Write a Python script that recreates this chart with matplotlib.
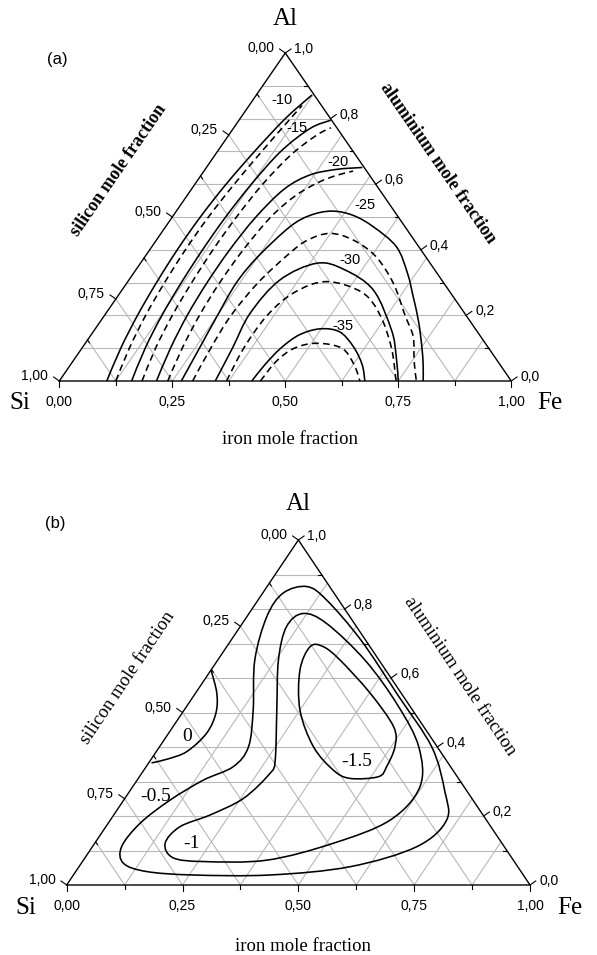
import numpy as np
import matplotlib
matplotlib.use('Agg')
import matplotlib.pyplot as plt
from matplotlib.path import Path
from matplotlib.patches import PathPatch

SERIF = 'Liberation Serif'
SANS = 'Liberation Sans'
GRID = '#b8b8b8'

# axis ticks and labels
fe_ticks = [0.0, 0.25, 0.5, 0.75, 1.0]
fe_labels = ['0,00', '0,25', '0,50', '0,75', '1,00']
si_ticks = [0.0, 0.25, 0.5, 0.75, 1.0]
si_labels = ['0,00', '0,25', '0,50', '0,75', '1,00']
al_ticks = [0.0, 0.2, 0.4, 0.6, 0.8, 1.0]
al_labels = ['0,0', '0,2', '0,4', '0,6', '0,8', '1,0']

# panel (a): contour lines as (Fe, Al) mole fractions
a_levels = ['-10', '-15', '-20', '-25', '-30', '-35']
a10_solid = [(0.105, 0), (0.086, 0.1), (0.073, 0.2), (0.065, 0.3), (0.061, 0.4), (0.062, 0.5),
             (0.069, 0.6), (0.082, 0.7), (0.1, 0.8), (0.123, 0.872)]
a10_dash = [(0.125, 0), (0.105, 0.1), (0.091, 0.2), (0.083, 0.3), (0.079, 0.4), (0.08, 0.5),
            (0.087, 0.6), (0.098, 0.7), (0.11, 0.79), (0.117, 0.84)]
a15_solid = [(0.16, 0), (0.14, 0.1), (0.127, 0.2), (0.12, 0.3), (0.117, 0.4), (0.118, 0.5),
             (0.125, 0.6), (0.14, 0.7), (0.17, 0.77), (0.203, 0.795)]
a15_dash = [(0.183, 0), (0.163, 0.1), (0.15, 0.2), (0.143, 0.3), (0.14, 0.4), (0.142, 0.5),
            (0.15, 0.6), (0.168, 0.69), (0.195, 0.75), (0.215, 0.772)]
a20_solid = [(0.215, 0), (0.196, 0.1), (0.183, 0.2), (0.177, 0.3), (0.177, 0.4), (0.185, 0.5),
             (0.205, 0.585), (0.24, 0.628), (0.29, 0.645), (0.345, 0.651)]
a20_dash = [(0.24, 0), (0.222, 0.1), (0.21, 0.2), (0.205, 0.3), (0.207, 0.4), (0.218, 0.5),
            (0.24, 0.565), (0.27, 0.605), (0.30, 0.627), (0.33, 0.64)]
a25_solid = [(0.27, 0), (0.26, 0.1), (0.25, 0.2), (0.242, 0.3), (0.25, 0.38), (0.275, 0.47),
             (0.3025, 0.505), (0.344, 0.518), (0.3975, 0.505), (0.46, 0.47), (0.5415, 0.409),
             (0.605, 0.33), (0.6545, 0.257), (0.705, 0.18), (0.7495, 0.105), (0.78, 0.05), (0.805, 0)]
a25_dash = [(0.295, 0), (0.285, 0.1), (0.28, 0.2), (0.29, 0.3), (0.315, 0.39), (0.335, 0.43),
            (0.374, 0.45), (0.435, 0.43), (0.51, 0.38), (0.59, 0.298), (0.665, 0.2), (0.7155, 0.135),
            (0.755, 0.06), (0.79, 0)]
a30_solid = [(0.345, 0), (0.333, 0.1), (0.319, 0.206), (0.334, 0.308), (0.39, 0.359), (0.46, 0.34),
             (0.5565, 0.277), (0.6575, 0.155), (0.705, 0.08), (0.75, 0)]
a30_dash = [(0.37, 0), (0.358, 0.1), (0.36, 0.2), (0.385, 0.27), (0.44, 0.303), (0.535, 0.27),
            (0.61, 0.2), (0.685, 0.1), (0.745, 0)]
a35_solid = [(0.426, 0), (0.43, 0.05), (0.44, 0.1), (0.46, 0.14), (0.497, 0.159), (0.545, 0.15),
             (0.598, 0.105), (0.645, 0.05), (0.676, 0)]
a35_dash = [(0.445, 0), (0.45, 0.06), (0.47, 0.1), (0.512, 0.115), (0.575, 0.1), (0.627, 0.05),
            (0.665, 0)]

# panel (b): closed contour lines, (Fe, Al)
b_levels = ['0', '-0.5', '-1', '-1.5']
b0 = [(0.0, 0.623), (0.046, 0.556), (0.073, 0.498), (0.082, 0.44), (0.066, 0.387),
      (0.035, 0.365), (0.006, 0.354)]
b05 = [(0.086, 0.865), (0.148, 0.826), (0.28, 0.71), (0.44, 0.55), (0.588, 0.40), (0.68, 0.272),
       (0.726, 0.188), (0.70, 0.111), (0.585, 0.053), (0.424, 0.029), (0.259, 0.029),
       (0.153, 0.039), (0.091, 0.063), (0.063, 0.111), (0.069, 0.179), (0.10, 0.246),
       (0.143, 0.304), (0.188, 0.343), (0.192, 0.401), (0.149, 0.507), (0.08, 0.652),
       (0.043, 0.778), (0.044, 0.846), (0.086, 0.865)]
b1 = [(0.117, 0.787), (0.182, 0.758), (0.32, 0.65), (0.455, 0.52), (0.56, 0.40), (0.62, 0.285),
      (0.604, 0.188), (0.515, 0.121), (0.396, 0.072), (0.261, 0.068), (0.19, 0.079),
      (0.152, 0.121), (0.16, 0.169), (0.208, 0.203), (0.256, 0.251), (0.277, 0.324),
      (0.269, 0.362), (0.2, 0.507), (0.131, 0.652), (0.10, 0.749), (0.117, 0.787)]
b15 = [(0.18, 0.691), (0.208, 0.691), (0.264, 0.652), (0.377, 0.556), (0.476, 0.459),
       (0.508, 0.401), (0.519, 0.343), (0.516, 0.314), (0.457, 0.309), (0.409, 0.333),
       (0.332, 0.401), (0.25, 0.507), (0.192, 0.623), (0.18, 0.691)]


def to_xy(points):
    p = np.asarray(points, dtype=float)
    return np.column_stack([p[:, 0] + p[:, 1] / 2, p[:, 1]])


def curve(ax, points, closed=False, **style):
    # smooth path through the read points (Catmull-Rom as cubic Bezier segments)
    P = to_xy(points)
    if closed:
        P = P[:-1]
    n = len(P)
    verts, codes = [P[0]], [Path.MOVETO]
    segs = n if closed else n - 1
    for i in range(segs):
        if closed:
            p0, p1, p2, p3 = P[i - 1], P[i], P[(i + 1) % n], P[(i + 2) % n]
        else:
            p0, p1 = P[max(i - 1, 0)], P[i]
            p2, p3 = P[i + 1], P[min(i + 2, n - 1)]
        verts += [p1 + (p2 - p0) / 6, p2 - (p3 - p1) / 6, p2]
        codes += [Path.CURVE4] * 3
    ax.add_patch(PathPatch(Path(verts, codes), fill=False, **style))


# panel geometry in pixels (triangle corners)
geo_a = dict(left=59.3, base=381.0, width=452.0, height=328.0, top=0.0, bottom=477.5)
geo_b = dict(left=66.7, base=885.0, width=463.3, height=345.0, top=477.5, bottom=955.0)

fig = plt.figure(figsize=(5.97, 9.55), dpi=100)


def make_axes(g):
    ax = fig.add_axes([0, 1 - g['bottom'] / 955, 1, (g['bottom'] - g['top']) / 955])
    ax.set_xlim(-g['left'] / g['width'], (597 - g['left']) / g['width'])
    ax.set_ylim((g['base'] - g['bottom']) / g['height'], (g['base'] - g['top']) / g['height'])
    ax.axis('off')
    return ax


def frame(ax, g):
    W, H = g['width'], g['height']
    kw = dict(color=GRID, lw=0.8, zorder=1)
    for a in np.arange(1, 10) / 10:
        ax.plot([a / 2, 1 - a / 2], [a, a], **kw)
    for f in np.arange(1, 8) / 8:
        ax.plot([f, f + (1 - f) / 2], [0, 1 - f], **kw)
        ax.plot([f, f / 2], [0, f], **kw)
    ax.plot([0, 1, 0.5, 0], [0, 0, 1, 0], color='black', lw=1.0, zorder=4)

    tk = dict(color='black', lw=0.8, zorder=4)
    c, s = np.cos(np.radians(35)), np.sin(np.radians(35))
    edge = np.array([W / 2, -H]) / np.hypot(W / 2, H)
    # bottom axis: Fe
    for k in range(9):
        f = k / 8
        L = 6 if k % 2 == 0 else 4
        ax.plot([f, f], [0, -L / H], **tk)
    for f, lab in zip(fe_ticks, fe_labels):
        ax.text(f, -21 / H, lab, ha='center', va='center', fontsize=10, family=SANS)
    # left axis: Si
    for k in range(9):
        al = 1 - k / 8
        x0, y0 = al / 2, al
        if k % 2 == 0:
            ax.plot([x0, x0 - 7 * c / W], [y0, y0 + 7 * s / H], **tk)
        else:
            ax.plot([x0, x0 + 3.5 * edge[0] / W], [y0, y0 + 3.5 * edge[1] / H], **tk)
    for si, lab in zip(si_ticks, si_labels):
        al = 1 - si
        ax.text(al / 2 - 11 / W, al + 5 / H, lab, ha='right', va='center', fontsize=10, family=SANS)
    # right axis: Al
    for k in range(11):
        al = k / 10
        x0, y0 = 1 - al / 2, al
        if k % 2 == 0:
            ax.plot([x0, x0 + 7 * c / W], [y0, y0 + 7 * s / H], **tk)
        else:
            ax.plot([x0, x0 - 3.5 / W], [y0, y0], **tk)
    for al, lab in zip(al_ticks, al_labels):
        ax.text(1 - al / 2 + 9 / W, al + 4 / H, lab, ha='left', va='center', fontsize=10, family=SANS)

    ax.text(0.5, 1.105, 'Al', ha='center', va='center', fontsize=18, family=SERIF)
    ax.text(-0.088, -0.066, 'Si', ha='center', va='center', fontsize=18, family=SERIF)
    ax.text(1.085, -0.066, 'Fe', ha='center', va='center', fontsize=18, family=SERIF)
    ax.text(0.51, -0.178, 'iron mole fraction', ha='center', va='center', fontsize=13.5, family=SERIF)


solid = dict(edgecolor='black', lw=1.15, zorder=3)
dash = dict(edgecolor='black', lw=1.15, zorder=3, linestyle=(0, (4.2, 2.7)))

# ---- panel (a)
ax = make_axes(geo_a)
frame(ax, geo_a)
ang = np.degrees(np.arctan2(geo_a['height'], geo_a['width'] / 2))
ax.text(0.132, 0.643, 'silicon mole fraction', rotation=ang, ha='center', va='center',
        fontsize=13, family=SERIF, weight='bold')
ax.text(0.838, 0.665, 'aluminium mole fraction', rotation=-ang, ha='center', va='center',
        fontsize=13, family=SERIF, weight='bold')
ax.text(-0.005, 0.979, '(a)', ha='center', va='center', fontsize=12, family=SANS)
for line in [a10_solid, a15_solid, a20_solid, a25_solid, a30_solid, a35_solid]:
    curve(ax, line, **solid)
for line in [a10_dash, a15_dash, a20_dash, a25_dash, a30_dash, a35_dash]:
    curve(ax, line, **dash)
a_label_pos = [(0.492, 0.857), (0.525, 0.770), (0.617, 0.669), (0.676, 0.537), (0.643, 0.369), (0.628, 0.169)]
for lab, (x, y) in zip(a_levels, a_label_pos):
    ax.text(x, y, lab, ha='center', va='center', fontsize=10.5, family=SANS, zorder=5)

# ---- panel (b)
ax = make_axes(geo_b)
frame(ax, geo_b)
ang = np.degrees(np.arctan2(geo_b['height'], geo_b['width'] / 2))
ax.text(0.131, 0.60, 'silicon mole fraction', rotation=ang, ha='center', va='center',
        fontsize=13.5, family=SERIF)
ax.text(0.849, 0.606, 'aluminium mole fraction', rotation=-ang, ha='center', va='center',
        fontsize=13.5, family=SERIF)
ax.text(-0.025, 1.049, '(b)', ha='center', va='center', fontsize=12, family=SANS)
curve(ax, b0, **solid)
for line in [b05, b1, b15]:
    curve(ax, line, closed=True, **solid)
b_label_pos = [(0.259, 0.43), (0.191, 0.256), (0.27, 0.121), (0.626, 0.357)]
for lab, (x, y) in zip(b_levels, b_label_pos):
    ax.text(x, y, lab, ha='center', va='center', fontsize=14, family=SERIF, zorder=5)

fig.savefig('out.png', dpi=100)
